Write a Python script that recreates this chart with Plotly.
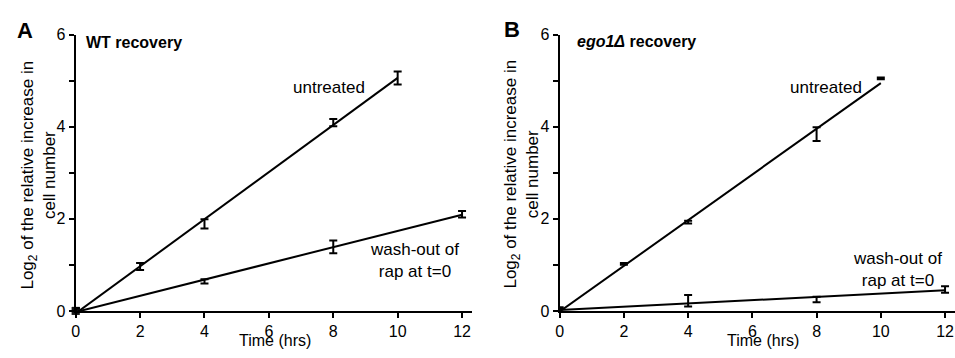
import numpy as np
import plotly.graph_objects as go

# ---- data ----
a_untreated_t = [0, 2, 4, 8, 10]
a_untreated_v = [0.0, 0.965, 1.89, 4.09, 5.06]
a_untreated_e = [0.06, 0.075, 0.10, 0.08, 0.14]

a_washout_t = [0, 4, 8, 12]
a_washout_v = [0.0, 0.64, 1.39, 2.10]
a_washout_e = [0.06, 0.045, 0.14, 0.07]

b_untreated_t = [0, 2, 4, 8, 10]
b_untreated_v = [0.0, 1.02, 1.93, 3.84, 5.05]
b_untreated_e = [0.08, 0.02, 0.03, 0.15, 0.02]

b_washout_t = [0, 4, 8, 12]
b_washout_v = [0.0, 0.22, 0.25, 0.465]
b_washout_e = [0.05, 0.125, 0.06, 0.07]

x_ticks = [0, 2, 4, 6, 8, 10, 12]
y_ticks = [0, 2, 4, 6]

FONT = "Arial, Liberation Sans, sans-serif"
W, H = 955, 358

fig = go.Figure()


def add_series(t, v, e, xa, ya, origin_square=False):
    sizes = [8 if (origin_square and tt == 0) else 0 for tt in t]
    fig.add_trace(go.Scatter(
        x=t, y=v, mode="markers", xaxis=xa, yaxis=ya,
        marker=dict(size=sizes, color="black", symbol="square", line=dict(width=0)),
        error_y=dict(type="data", array=e, visible=True, color="black",
                     thickness=2, width=4),
        cliponaxis=False, showlegend=False, hoverinfo="skip"))
    slope, intercept = np.polyfit(t, v, 1)
    xs = np.array([min(t), max(t)], dtype=float)
    fig.add_trace(go.Scatter(
        x=xs, y=slope * xs + intercept, mode="lines", xaxis=xa, yaxis=ya,
        line=dict(color="black", width=2), cliponaxis=False,
        showlegend=False, hoverinfo="skip"))


add_series(a_untreated_t, a_untreated_v, a_untreated_e, "x", "y", True)
add_series(a_washout_t, a_washout_v, a_washout_e, "x", "y", True)
add_series(b_untreated_t, b_untreated_v, b_untreated_e, "x2", "y2")
add_series(b_washout_t, b_washout_v, b_washout_e, "x2", "y2")

ydom = [40 / H, 330 / H]
xa_common = dict(range=[0, 12.31], tickvals=x_ticks, ticktext=[str(v) for v in x_ticks],
                 showline=True, linewidth=2, linecolor="black", ticks="outside",
                 ticklen=5, tickwidth=2, tickcolor="black", showgrid=False,
                 zeroline=False, tickfont=dict(family=FONT, size=16, color="black"),
                 fixedrange=True)
ya_common = dict(range=[0, 6], tickvals=y_ticks, ticktext=[str(v) for v in y_ticks],
                 showline=True, linewidth=2, linecolor="black", ticks="outside",
                 ticklen=5, tickwidth=2, tickcolor="black", showgrid=False,
                 zeroline=False, tickfont=dict(family=FONT, size=16, color="black"),
                 minor=dict(ticks="outside", dtick=1, ticklen=5, tickwidth=2,
                            tickcolor="black", showgrid=False),
                 domain=ydom, fixedrange=True)

fig.update_layout(
    width=W, height=H, margin=dict(l=0, r=0, t=0, b=0),
    plot_bgcolor="white", paper_bgcolor="white",
    font=dict(family=FONT, color="black"),
    xaxis=dict(domain=[72 / W, 470 / W], anchor="y", **xa_common),
    yaxis=dict(anchor="x", **ya_common),
    xaxis2=dict(domain=[558 / W, 1.0], anchor="y2", **xa_common),
    yaxis2=dict(anchor="x2", **ya_common),
)


def px(x, y, text, size=17, angle=0, xanchor="center", align="center"):
    fig.add_annotation(x=x / W, y=1 - y / H, xref="paper", yref="paper",
                       text=text, showarrow=False, textangle=angle,
                       xanchor=xanchor, yanchor="middle", align=align,
                       font=dict(family=FONT, size=size, color="black"))


# panel letters
px(21, 24, "<b>A</b>", size=22)
px(510, 23, "<b>B</b>", size=22)
# panel titles
px(80, 36, "<b>WT recovery</b>", size=16, xanchor="left")
px(573, 35, "<b><i>ego1Δ</i> recovery</b>", size=16, xanchor="left")
# y titles
ytitle = "Log<sub>2</sub> of the relative increase in<br>cell number"
px(35, 175, ytitle, size=17, angle=-90)
px(520, 174, ytitle, size=17, angle=-90)
# x titles
px(272, 349, "Time (hrs)", size=16)
px(762, 349, "Time (hrs)", size=16)
# series labels
px(326, 83, "untreated", size=17)
px(825, 83, "untreated", size=17)
px(412, 265, "wash-out of<br>rap at t=0", size=17)
px(897, 275, "wash-out of<br>rap at t=0", size=17)

fig.write_html(
    "out.html",
    config={"displayModeBar": False},
    post_script="document.body.style.margin='0';document.body.style.overflow='hidden';",
)
